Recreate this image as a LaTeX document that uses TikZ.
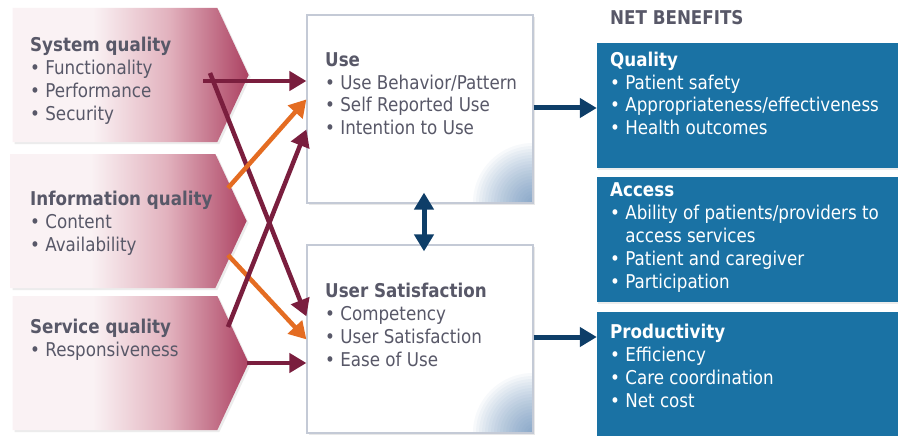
\documentclass[tikz,border=0pt]{standalone}
\usepackage{fontspec}
\setmainfont{DejaVu Sans}[FakeStretch=0.88]
\usepackage{tikz}
\usetikzlibrary{positioning, arrows.meta, shapes.symbols, shadows}

\definecolor{txtgray}{RGB}{88,88,104}
\definecolor{qmaroon}{RGB}{122,30,62}
\definecolor{qorange}{RGB}{228,108,34}
\definecolor{qnavy}{RGB}{14,62,104}
\definecolor{netblue}{RGB}{26,114,164}
\definecolor{rosel}{RGB}{250,242,244}
\definecolor{rosem}{RGB}{226,178,190}
\definecolor{rosed}{RGB}{172,66,98}
\definecolor{cornblue}{RGB}{60,112,170}
\definecolor{edgegray}{RGB}{196,202,214}

\pgfdeclarehorizontalshading{roseshade}{100bp}{color(0bp)=(rosel); color(25bp)=(rosel); color(42bp)=(rosel); color(58bp)=(rosem); color(75bp)=(rosed); color(100bp)=(rosed)}

\begin{document}
\begin{tikzpicture}[x=1pt, y=-1pt,
  sigbox/.style={signal, signal to=east, signal pointer angle=130, shading=roseshade,
    minimum width=236pt, minimum height=134pt, inner sep=0pt,
    drop shadow={shadow xshift=2pt, shadow yshift=-2pt, opacity=0.15}},
  midbox/.style={rectangle, fill=white, draw=edgegray, line width=1.2pt, inner sep=0pt,
    minimum width=226pt, minimum height=188pt,
    drop shadow={shadow xshift=2pt, shadow yshift=-2pt, opacity=0.18},
    path picture={\foreach \r in {3,6,...,60}
      \fill[cornblue, opacity=0.04] (path picture bounding box.south east) circle (\r pt);}},
  netbox/.style={rectangle, fill=netblue, inner sep=0pt, minimum width=310pt,
    drop shadow={shadow xshift=1pt, shadow yshift=-2pt, opacity=0.15}},
  txt/.style={align=left, inner sep=0pt, text=txtgray, font=\fontsize{19}{23}\selectfont},
  qarrow/.style={qmaroon, line width=4.5pt, -{Triangle[length=17pt, width=19pt]}},
  iarrow/.style={qorange, line width=4.5pt, -{Triangle[length=17pt, width=19pt]}},
  barrow/.style={qnavy, line width=5pt, -{Triangle[length=17pt, width=19pt]}}]

\fill[white] (0,0) rectangle (898,436);
\useasboundingbox (0,0) rectangle (898,436);

% dimension boxes on the left
\node[sigbox] (sys) at (115,75) {};
\node[sigbox] (info) at (113,221) {};
\node[sigbox] (serv) at (115,363) {};

% text nodes sit on the baseline of their last line
\node[txt, anchor=base west] (systxt) at (30,121)
  {\textbf{System quality}\\• Functionality\\• Performance\\• Security};
\node[txt, anchor=base west] (infotxt) at (30,251)
  {\textbf{Information quality}\\• Content\\• Availability};
\node[txt, anchor=base west] (servtxt) at (30,356)
  {\textbf{Service quality}\\• Responsiveness};

% use and satisfaction
\node[midbox] (use) at (420,109) {};
\node[midbox] (sat) at (420,339) {};

\node[txt, anchor=base west] (usetxt) at (325,135)
  {\textbf{Use}\\• Use Behavior/Pattern\\• Self Reported Use\\• Intention to Use};
\node[txt, anchor=base west] (sattxt) at (325,366)
  {\textbf{User Satisfaction}\\• Competency\\• User Satisfaction\\• Ease of Use};

% net benefits
\node[txt, anchor=base west] (nethead) at (610,25) {\textbf{NET BENEFITS}};
\node[netbox, minimum height=125pt] (qual) at (752,105.5) {};
\node[netbox, minimum height=125pt] (acc) at (752,239.5) {};
\node[netbox, minimum height=133pt] (prod) at (752,378.5) {};

\node[txt, text=white, anchor=base west] (qualtxt) at (610,135)
  {\textbf{Quality}\\• Patient safety\\• Appropriateness/effectiveness\\• Health outcomes};
\node[txt, text=white, anchor=base west] (acctxt) at (610,288)
  {\textbf{Access}\\• Ability of patients/providers to\\\phantom{• }access services\\• Patient and caregiver\\• Participation};
\node[txt, text=white, anchor=base west] (prodtxt) at (610,407)
  {\textbf{Productivity}\\• Efficiency\\• Care coordination\\• Net cost};

% start points of the links
\coordinate (sysa) at (203,81);
\coordinate (sysb) at (210,73);
\coordinate (infoa) at (228,188);
\coordinate (infob) at (228,255);
\coordinate (serva) at (228,327);
\coordinate (servb) at (247,363);

\draw[qarrow] (sysa) -- (sysa -| use.west);
\draw[qarrow] (sysb) -- ([yshift=-72pt]sat.north west);
\draw[iarrow] (infoa) -- ([yshift=-85pt]use.north west);
\draw[iarrow] (infob) -- ([yshift=-95pt]sat.north west);
\draw[qarrow] (serva) -- ([yshift=-115pt]use.north west);
\draw[qarrow] (servb) -- (servb -| sat.west);

% links to net benefits
\draw[barrow] ([yshift=1pt]use.east) -- ([yshift=1pt]use.east -| qual.west);
\draw[barrow] ([yshift=2pt]sat.east) -- ([yshift=2pt]sat.east -| prod.west);
\draw[barrow, {Triangle[length=17pt, width=19pt]}-{Triangle[length=17pt, width=19pt]},
  shorten <=-11pt, shorten >=-7pt] ([xshift=4pt]use.south) -- ([xshift=4pt]sat.north);
\end{tikzpicture}
\end{document}
